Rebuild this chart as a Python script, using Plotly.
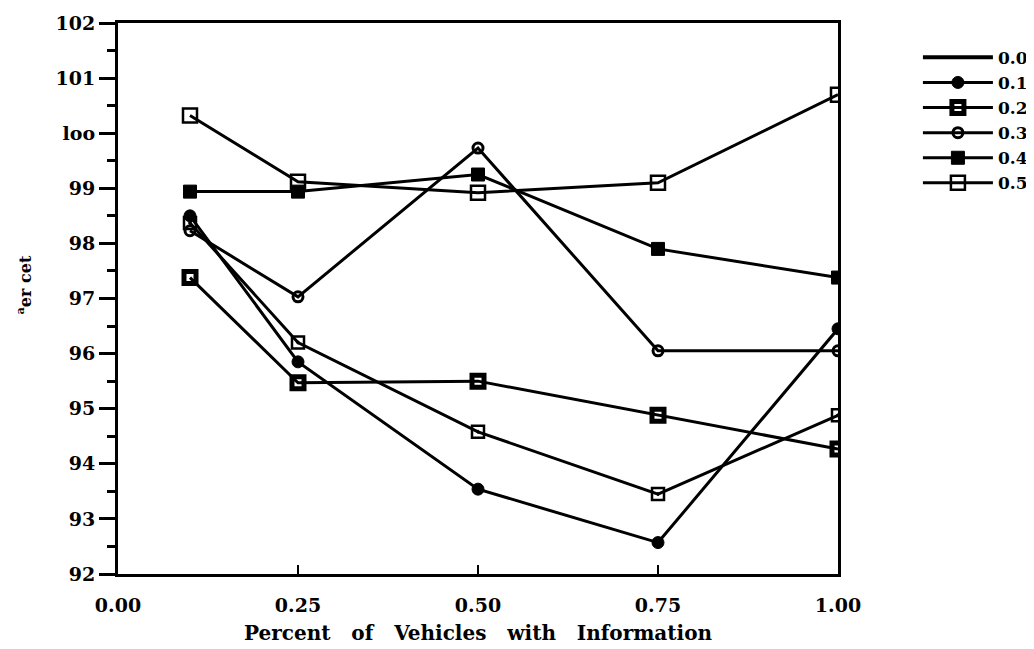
import plotly.graph_objects as go

# Percent of vehicles with information (x) and the y value per series
pct_info = [0.10, 0.25, 0.50, 0.75, 1.00]

series_names = ['0.0', '0.1', '0.2', '0.3', '0.4', '0.5']
s_00 = [98.37, 96.20, 94.58, 93.45, 94.88]
s_01 = [98.50, 95.85, 93.54, 92.57, 96.45]
s_02 = [97.38, 95.47, 95.50, 94.88, 94.27]
s_03 = [98.23, 97.03, 99.73, 96.05, 96.05]
s_04 = [98.94, 98.94, 99.25, 97.90, 97.38]
s_05 = [100.32, 99.12, 98.92, 99.10, 100.70]

y_tickvals = [92, 93, 94, 95, 96, 97, 98, 99, 100, 101, 102]
y_ticktext = ['92', '93', '94', '95', '96', '97', '98', '99', 'loo', '101', '102']
x_tickvals = [0.0, 0.25, 0.5, 0.75, 1.0]
x_ticktext = ['0.00', '0.25', '0.50', '0.75', '1.00']

FONT = 'DejaVu Serif'
SP = '\u00a0\u00a0 '

# marker style per series (symbol, size, line width)
styles = {
    '0.0': ('square-open-dot', 12, 2.5),
    '0.1': ('circle', 12, 1),
    '0.2': ('square-open', 12, 5),
    '0.3': ('circle-open', 10, 3),
    '0.4': ('square', 13, 1),
    '0.5': ('square-open', 14, 2.5),
}
values = dict(zip(series_names, [s_00, s_01, s_02, s_03, s_04, s_05]))

fig = go.Figure()

# legend entry for 0.0 is a plain line
fig.add_trace(go.Scatter(x=[None], y=[None], mode='lines', name='0.0',
                         line=dict(color='black', width=4), showlegend=True))

for name in series_names:
    sym, size, lw = styles[name]
    fig.add_trace(go.Scatter(
        x=pct_info, y=values[name],
        mode='lines+markers', name=name,
        showlegend=(name != '0.0'),
        line=dict(color='black', width=3),
        marker=dict(symbol=sym, size=size, color='black',
                    line=dict(color='black', width=lw)),
    ))

fig.update_layout(
    width=1034, height=649,
    autosize=False,
    margin=dict(l=110, r=204, t=15, b=83, pad=0),
    paper_bgcolor='white', plot_bgcolor='white',
    font=dict(family=FONT, color='black', size=18),
    showlegend=True,
    legend=dict(xref='container', yref='container',
                x=0.880, y=0.951, xanchor='left', yanchor='top',
                font=dict(family=FONT, size=17, weight='bold'),
                bgcolor='rgba(0,0,0,0)', itemwidth=70, tracegroupgap=0),
)

fig.update_xaxes(
    range=[0, 1], tickvals=x_tickvals, ticktext=x_ticktext,
    showgrid=False, zeroline=False, automargin=False,
    showline=True, linecolor='black', linewidth=3, mirror=True,
    ticks='inside', ticklen=9, tickwidth=1.5, tickcolor='black',
    ticklabelstandoff=12, ticklabeloverflow='allow',
    tickfont=dict(family=FONT, size=19, weight='bold'),
    title=dict(text='Percent' + SP + 'of' + SP + 'Vehicles' + SP + 'with' + SP + 'Information',
               font=dict(family=FONT, size=20, weight='bold'), standoff=12),
)
fig.update_yaxes(
    range=[92, 102], tickvals=y_tickvals, ticktext=y_ticktext,
    showgrid=False, zeroline=False, automargin=False,
    showline=True, linecolor='black', linewidth=3, mirror=True,
    ticks='outside', ticklen=16, tickwidth=3, tickcolor='black',
    ticklabeloverflow='allow',
    minor=dict(dtick=0.5, ticks='outside', ticklen=8, tickwidth=2.5, tickcolor='black'),
    tickfont=dict(family=FONT, size=19, weight='bold'),
)

# rotated y-axis title, placed like the original
fig.add_annotation(
    text='<sup>a</sup>er cet', xref='paper', yref='paper',
    x=-0.149, y=0.525, showarrow=False, textangle=-90,
    font=dict(family=FONT, size=16, weight='bold'),
)

fig.write_html('out.html')
